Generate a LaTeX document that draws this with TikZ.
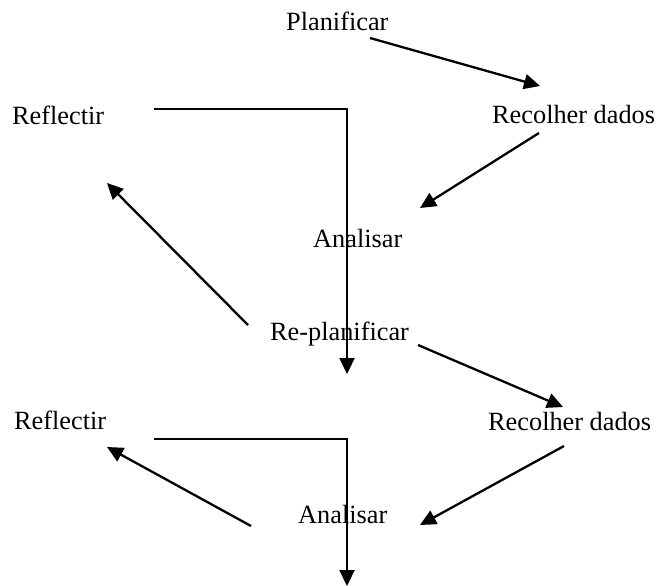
\documentclass[tikz,border=0pt]{standalone}
\usepackage{fontspec}
\setmainfont{Liberation Serif}
\usetikzlibrary{arrows.meta}
\tikzset{
  lbl/.style={anchor=base west, inner sep=0pt, font=\fontsize{26.3}{30}\selectfont},
  conn/.style={line width=2.3pt, -{Triangle[length=16pt,width=15pt]}}
}
\begin{document}
\begin{tikzpicture}[x=1pt,y=-1pt]
\useasboundingbox (0,0) rectangle (656,586);
% labels
\node[lbl] (plan) at (286,31) {Planificar};
\node[lbl] (rec1) at (492,123) {Recolher dados};
\node[lbl] (ref1) at (12,124) {Reflectir};
\node[lbl] (an1) at (313,247) {Analisar};
\node[lbl] (replan) at (270,340) {Re-planificar};
\node[lbl] (ref2) at (14,429) {Reflectir};
\node[lbl] (rec2) at (488,430) {Recolher dados};
\node[lbl] (an2) at (298,523) {Analisar};
% connector endpoints
\coordinate (p1s) at (370,38);  \coordinate (p1e) at (540,86);
\coordinate (r1s) at (539,133); \coordinate (r1e) at (420,208);
\coordinate (a1s) at (248,325); \coordinate (a1e) at (107,183);
\coordinate (l1s) at (154,109); \coordinate (l1c) at (347,109); \coordinate (l1e) at (347,374);
\coordinate (q1s) at (418,345); \coordinate (q1e) at (563,407);
\coordinate (r2s) at (564,446); \coordinate (r2e) at (420,525);
\coordinate (a2s) at (251,526); \coordinate (a2e) at (107,447);
\coordinate (l2s) at (154,439); \coordinate (l2c) at (347,439); \coordinate (l2e) at (347,586);
% connectors
\draw[conn] (p1s) -- (p1e);
\draw[conn] (r1s) -- (r1e);
\draw[conn] (a1s) -- (a1e);
\draw[conn] (l1s) -- (l1c) -- (l1e);
\draw[conn] (q1s) -- (q1e);
\draw[conn] (r2s) -- (r2e);
\draw[conn] (a2s) -- (a2e);
\draw[conn] (l2s) -- (l2c) -- (l2e);
\end{tikzpicture}
\end{document}
